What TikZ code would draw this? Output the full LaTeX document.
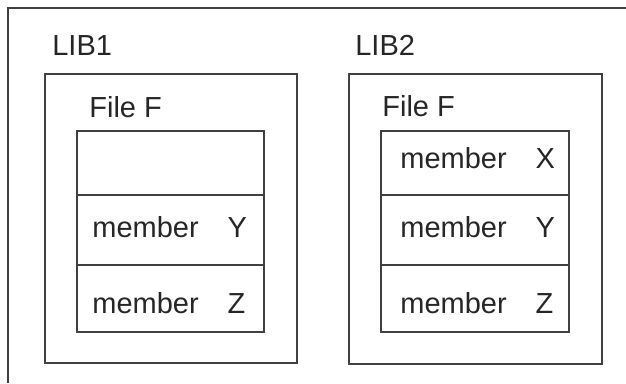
\documentclass[tikz,border=0pt]{standalone}
\usepackage{fontspec}
\setmainfont{Liberation Sans}

\begin{document}
\begin{tikzpicture}[x=0.02cm, y=-0.02cm,
  box/.style={draw=black!75, line width=1.1pt},
  lbl/.style={anchor=base west, inner sep=0pt, text=black!85,
    font=\fontsize{16.5}{20}\selectfont}]
  \useasboundingbox (0,0) rectangle (626,383);
  % outer frame, cut off at right and bottom
  \draw[box] (626,8) -- (8,8) -- (8,383);
  % LIB1
  \begin{scope}
    \draw[box] (45,74) rectangle (297,363);
    \draw[box] (77,131) rectangle (264,332);
    \draw[box] (77,195) -- (264,195);
    \draw[box] (77,265) -- (264,265);
    \node[lbl] (lib1) at (52,55)  {LIB1};
    \node[lbl] (f1)   at (89,117) {File F};
    \node[lbl] (y1)   at (92,237) {member\quad Y};
    \node[lbl] (z1)   at (92,313) {member\quad Z};
  \end{scope}
  % LIB2
  \begin{scope}[shift={(304,0)}]
    \draw[box] (45,74) rectangle (298,364);
    \draw[box] (77,131) rectangle (265,332);
    \draw[box] (77,195) -- (265,195);
    \draw[box] (77,265) -- (265,265);
    \node[lbl] (lib2) at (51,55)  {LIB2};
    \node[lbl] (f2)   at (78,116) {File F};
    \node[lbl] (x2)   at (96,168) {member\quad X};
    \node[lbl] (y2)   at (96,237) {member\quad Y};
    \node[lbl] (z2)   at (96,313) {member\quad Z};
  \end{scope}
\end{tikzpicture}
\end{document}
